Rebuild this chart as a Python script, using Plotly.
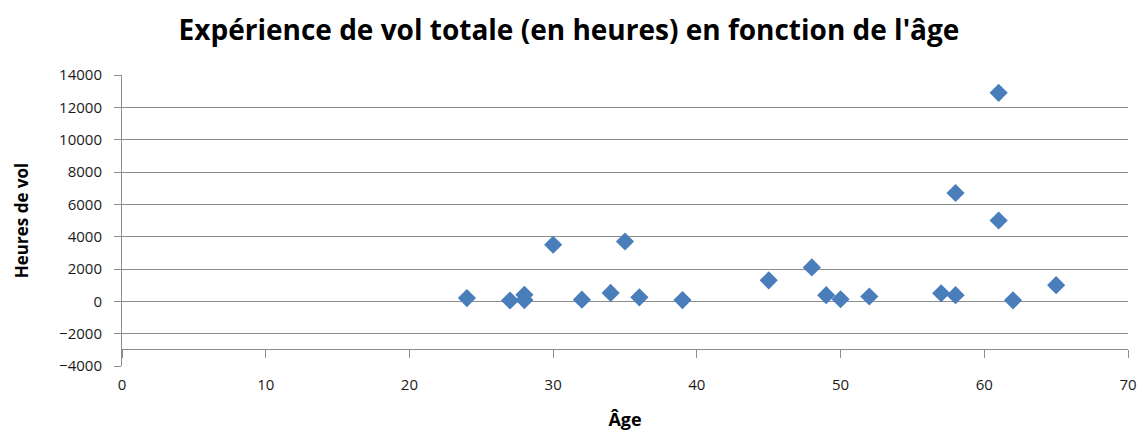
import plotly.graph_objects as go

# data
ages = [24, 27, 28, 28, 30, 32, 34, 35, 36, 39, 45, 48, 49, 50, 52, 57, 58, 58, 61, 61, 62, 65]
hours = [200, 50, 400, 80, 3500, 100, 520, 3700, 250, 80, 1300, 2100, 380, 130, 300, 500, 6700, 380, 12900, 5000, 60, 1000]

title_text = "Expérience de vol totale (en heures) en fonction de l'âge"
x_title = "Âge"
y_title = "Heures de vol"

grid_col = '#8c8c8c'
font_fam = 'Open Sans, Liberation Sans, sans-serif'

fig = go.Figure()
fig.add_trace(go.Scatter(x=ages,
                         y=hours,
                         mode='markers',
                         marker={'symbol': 'diamond', 'size': 14, 'color': '#4a7ebb',
                                 'line': {'width': 0}},
                         showlegend=False))

# layout (page body adds an 8px offset, so the figure is a bit smaller)
fig.update_layout(width=1137,
                  height=424,
                  paper_bgcolor='white',
                  plot_bgcolor='white',
                  margin={'l': 114, 'r': 17, 't': 67, 'b': 66},
                  font={'family': font_fam, 'color': '#000000', 'size': 15},
                  title={'text': '<b>' + title_text + '</b>',
                         'x': 0.4934, 'xanchor': 'center',
                         'y': 0.948, 'yanchor': 'middle',
                         'font': {'size': 28, 'family': font_fam}})

# y axis, gridlines every 2000
fig.update_yaxes(range=[-4000, 14000],
                 dtick=2000,
                 tickformat='d',
                 automargin=False,
                 showgrid=True,
                 gridcolor=grid_col,
                 gridwidth=1,
                 zeroline=False,
                 showline=True,
                 linecolor=grid_col,
                 linewidth=1,
                 ticks='outside',
                 ticklen=7,
                 tickcolor=grid_col,
                 ticklabelstandoff=9,
                 tickfont={'size': 15, 'color': '#1a1a1a'},
                 title={'text': '<b>' + y_title + '</b>', 'font': {'size': 17}, 'standoff': 26})

# x axis sits a bit above the bottom, like the excel chart
fig.update_xaxes(range=[0, 70],
                 dtick=10,
                 automargin=False,
                 showgrid=False,
                 zeroline=False,
                 anchor='free',
                 position=0.058,
                 showline=True,
                 linecolor=grid_col,
                 linewidth=1,
                 ticks='outside',
                 ticklen=8,
                 tickcolor=grid_col,
                 ticklabelstandoff=14,
                 tickfont={'size': 15, 'color': '#1a1a1a'},
                 title={'text': '<b>' + x_title + '</b>', 'font': {'size': 18}, 'standoff': 20})

fig.write_html("out.html")
